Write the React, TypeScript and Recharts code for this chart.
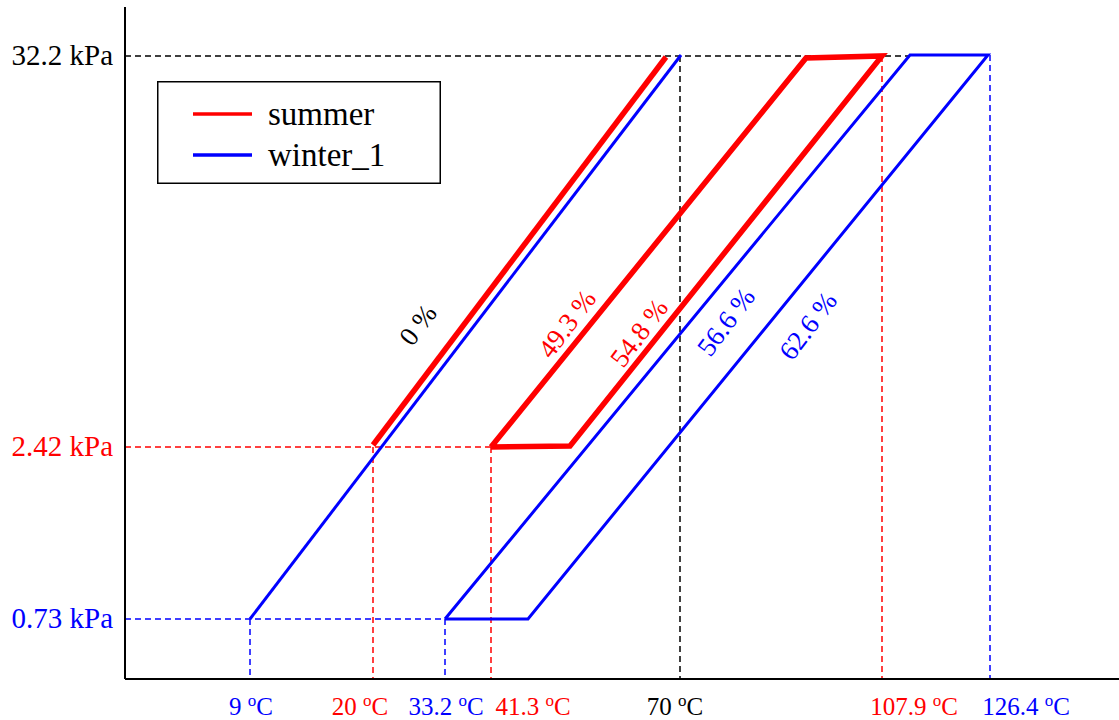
import React from 'react';
import { ComposedChart, Line, XAxis, YAxis, ReferenceLine, Scatter, Legend } from 'recharts';

const RED = '#ff0000';
const BLUE = '#0000ff';
const BLACK = '#000000';
const FONT = '"Liberation Serif", "Times New Roman", serif';

// Schematic diagram units (the original figure is not drawn to a uniform scale)
const xTickPositions = [126, 235, 321, 408, 550, 789, 901];
const xTickLabels = ['9', '20', '33.2', '41.3', '70', '107.9', '126.4'];
const xTickColors = [BLUE, RED, BLUE, RED, BLACK, RED, BLUE];

const yTickPositions = [60, 232, 623];
const yTickLabels = ['0.73 kPa', '2.42 kPa', '32.2 kPa'];
const yTickColors = [BLUE, RED, BLACK];

// summer (red)
const summerZero = [
  { x: 248, y: 234 },
  { x: 541, y: 622 },
];
const summerLoop = [
  { x: 366, y: 232 },
  { x: 445, y: 233 },
  { x: 757, y: 623 },
  { x: 681, y: 621 },
  { x: 366, y: 232 },
];
// winter_1 (blue)
const winterZero = [
  { x: 125, y: 60 },
  { x: 556, y: 624 },
];
const winterLoop = [
  { x: 320, y: 60 },
  { x: 403, y: 60 },
  { x: 863, y: 624 },
  { x: 785, y: 624 },
  { x: 320, y: 60 },
];

// dashed guide segments
const blackGuides = [
  [{ x: 0, y: 623 }, { x: 785, y: 623 }],
  [{ x: 555, y: 623 }, { x: 555, y: 0 }],
];
const redGuides = [
  [{ x: 0, y: 232 }, { x: 366, y: 232 }],
  [{ x: 248, y: 232 }, { x: 248, y: 0 }],
  [{ x: 366, y: 232 }, { x: 366, y: 0 }],
  [{ x: 757, y: 623 }, { x: 757, y: 0 }],
];
const blueGuides = [
  [{ x: 0, y: 60 }, { x: 320, y: 60 }],
  [{ x: 125, y: 60 }, { x: 125, y: 0 }],
  [{ x: 320, y: 60 }, { x: 320, y: 0 }],
  [{ x: 865, y: 624 }, { x: 865, y: 0 }],
];

// percentage annotations
const zeroLabels = [{ x: 293, y: 354, label: '0 %' }];
const summerLabels = [
  { x: 442, y: 355, label: '49.3 %' },
  { x: 514, y: 346, label: '54.8 %' },
];
const winterLabels = [
  { x: 601, y: 357, label: '56.6 %' },
  { x: 683, y: 353, label: '62.6 %' },
];

const XTick = (props: any) => {
  const { x, y, payload } = props;
  const i = xTickPositions.indexOf(payload.value);
  if (i < 0) return null;
  return (
    <text x={x} y={y} dy={28} textAnchor="middle" fill={xTickColors[i]} fontSize={25} fontFamily={FONT} style={{ whiteSpace: 'pre' }}>
      {xTickLabels[i] + '\u00a0'}
      <tspan dy={-9} fontSize={17}>o</tspan>
      <tspan dy={9}>C</tspan>
    </text>
  );
};

const YTick = (props: any) => {
  const { x, y, payload } = props;
  const i = yTickPositions.indexOf(payload.value);
  if (i < 0) return null;
  return (
    <text x={x} y={y} dx={-4} dy={9} textAnchor="end" fill={yTickColors[i]} fontSize={29} fontFamily={FONT}>
      {yTickLabels[i]}
    </text>
  );
};

const makeLabelShape = (color: string) => (props: any) => {
  const { cx, cy, payload } = props;
  return (
    <text
      x={cx}
      y={cy}
      transform={`rotate(-53 ${cx} ${cy})`}
      textAnchor="middle"
      dominantBaseline="central"
      fill={color}
      fontSize={27}
      fontFamily={FONT}
    >
      {payload.label}
    </text>
  );
};

const LegendBox = (props: any) => {
  const items = (props.payload || []).filter((p: any) => p.type !== 'none');
  return (
    <svg width={284} height={103} style={{ display: 'block' }}>
      <rect x={0.75} y={0.75} width={282.5} height={101.5} fill="#fff" stroke="#000" strokeWidth={1.5} />
      {items.map((it: any, k: number) => (
        <g key={it.value}>
          <line x1={36} x2={95} y1={33 + k * 41} y2={33 + k * 41} stroke={it.color} strokeWidth={3.5} />
          <text x={111} y={44 + k * 41} fontSize={33} fontFamily={FONT} fill="#000">
            {it.value}
          </text>
        </g>
      ))}
    </svg>
  );
};

const guide = (seg: any, color: string, key: string) => (
  <ReferenceLine key={key} segment={seg} stroke={color} strokeWidth={1.5} strokeDasharray="6 4" ifOverflow="extendDomain" />
);

export default function App() {
  return (
    <div style={{ position: 'absolute', left: 0, top: 0, width: 1119, height: 720, background: '#fff' }}>
      <ComposedChart width={1119} height={720} margin={{ top: 7, right: 0, bottom: 0, left: 0 }}>
        <XAxis
          type="number"
          dataKey="x"
          domain={[0, 994]}
          ticks={xTickPositions}
          interval={0}
          tick={<XTick />}
          tickLine={false}
          axisLine={{ stroke: '#000', strokeWidth: 2 }}
          height={41}
          allowDataOverflow
        />
        <YAxis
          type="number"
          dataKey="y"
          domain={[0, 672]}
          ticks={yTickPositions}
          interval={0}
          tick={<YTick />}
          tickLine={false}
          axisLine={{ stroke: '#000', strokeWidth: 2 }}
          width={125}
          allowDataOverflow
        />
        {blackGuides.map((s, k) => guide(s, BLACK, 'k' + k))}
        {redGuides.map((s, k) => guide(s, RED, 'r' + k))}
        {blueGuides.map((s, k) => guide(s, BLUE, 'b' + k))}
        <Line data={winterZero} dataKey="y" name="winter_1-0" stroke={BLUE} strokeWidth={3} dot={false} legendType="none" isAnimationActive={false} />
        <Line data={winterLoop} dataKey="y" name="winter_1" stroke={BLUE} strokeWidth={3} dot={false} isAnimationActive={false} />
        <Line data={summerZero} dataKey="y" name="summer-0" stroke={RED} strokeWidth={5.5} dot={false} legendType="none" isAnimationActive={false} />
        <Line data={summerLoop} dataKey="y" name="summer" stroke={RED} strokeWidth={5.5} dot={false} isAnimationActive={false} />
        <Scatter data={zeroLabels} dataKey="y" fill={BLACK} shape={makeLabelShape(BLACK)} legendType="none" isAnimationActive={false} />
        <Scatter data={summerLabels} dataKey="y" fill={RED} shape={makeLabelShape(RED)} legendType="none" isAnimationActive={false} />
        <Scatter data={winterLabels} dataKey="y" fill={BLUE} shape={makeLabelShape(BLUE)} legendType="none" isAnimationActive={false} />
        <Legend
          layout="horizontal"
          verticalAlign="middle"
          align="center"
          content={<LegendBox />}
          wrapperStyle={{ left: 157, top: 81, width: 284, height: 103 }}
        />
      </ComposedChart>
    </div>
  );
}
